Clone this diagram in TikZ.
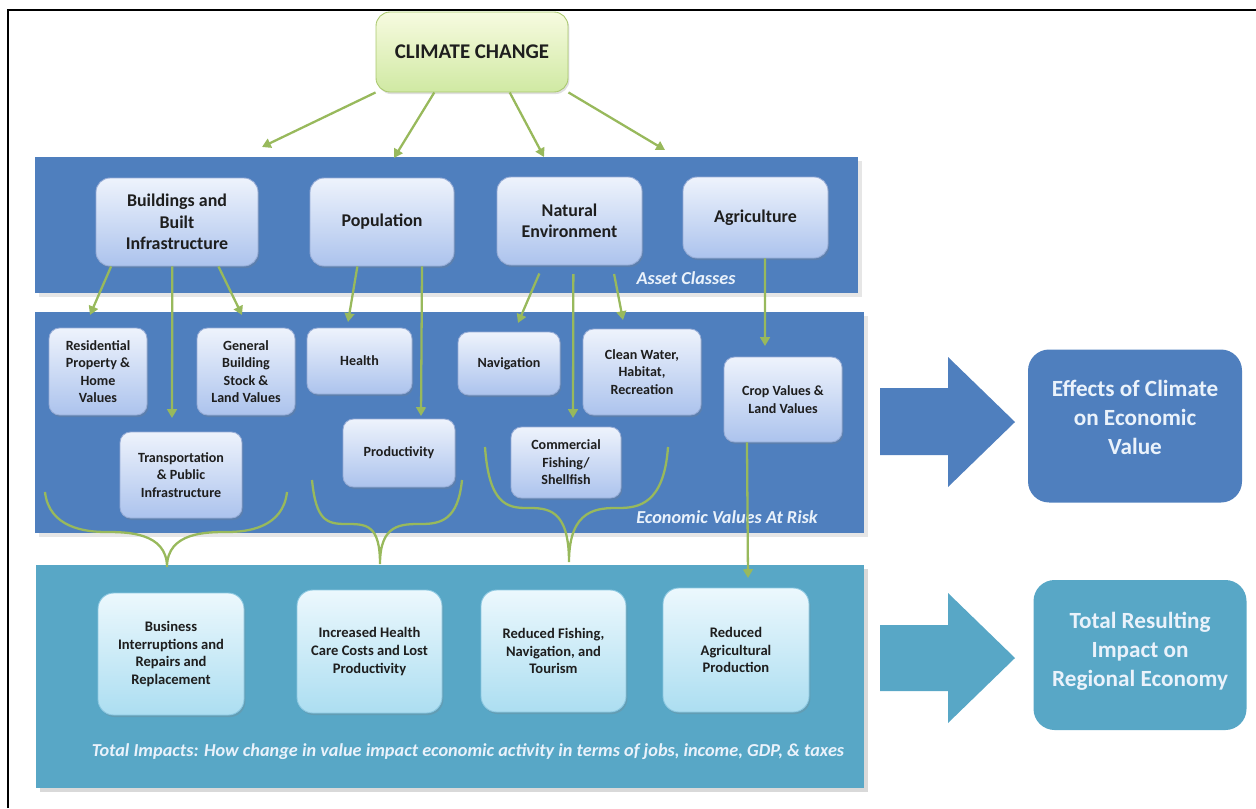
\documentclass[tikz,border=0pt]{standalone}
\usepackage{fontspec}
\setmainfont{Carlito}
\usetikzlibrary{arrows.meta,shadows}
\definecolor{bandblue}{RGB}{79,127,190}
\definecolor{bandteal}{RGB}{88,167,198}
\definecolor{leaf}{RGB}{152,185,92}
\definecolor{boxtop}{RGB}{238,243,252}
\definecolor{boxbot}{RGB}{172,195,237}
\definecolor{boxline}{RGB}{150,172,214}
\definecolor{celltop}{RGB}{236,248,253}
\definecolor{cellbot}{RGB}{172,222,241}
\definecolor{cellline}{RGB}{140,200,225}
\definecolor{limetop}{RGB}{247,251,224}
\definecolor{limebot}{RGB}{208,233,163}
\definecolor{limeline}{RGB}{170,200,110}
\definecolor{inktext}{RGB}{30,30,30}
\definecolor{paletext}{RGB}{234,242,251}
\tikzset{
  asset/.style={rounded corners=8pt, draw=boxline, line width=0.5pt, top color=boxtop, bottom color=boxbot,
    inner sep=0pt, align=center, text=inktext, font=\bfseries\fontsize{10.2}{12.2}\selectfont,
    drop shadow={opacity=0.25, shadow xshift=0.8pt, shadow yshift=-1.2pt}},
  value/.style={asset, rounded corners=6pt, font=\bfseries\fontsize{8}{10}\selectfont},
  impact/.style={asset, rounded corners=9pt, draw=cellline, top color=celltop, bottom color=cellbot,
    font=\bfseries\fontsize{8.3}{10}\selectfont},
  result/.style={rounded corners=12pt, inner sep=0pt},
  resulttext/.style={inner sep=0pt, align=center, text=paletext, font=\bfseries\fontsize{13.2}{16.5}\selectfont},
  conn/.style={draw=leaf, line width=1.3pt, -{Triangle[length=5pt,width=5.5pt]}},
  brace/.style={draw=leaf, line width=1.3pt},
  tag/.style={text=paletext, inner sep=0pt, font=\bfseries\itshape\fontsize{10.4}{12}\selectfont}
}
\begin{document}
\begin{tikzpicture}[x=0.02cm, y=-0.02cm]
    \useasboundingbox (0,0) rectangle (1256,808);
    \draw[line width=1.5pt] (8,808) -- (8,10) -- (1256,10);

    \fill[bandblue, drop shadow={opacity=0.2}] (35,157) rectangle (858,293);
    \fill[bandblue, drop shadow={opacity=0.2}] (35,312) rectangle (864,533);
    \fill[bandteal, drop shadow={opacity=0.3}] (36,565) rectangle (864,788);

    \fill[bandblue] (880,388) -- (948,388) -- (948,357) -- (1015,422) -- (948,487) -- (948,455) -- (880,455) -- cycle;
    \fill[bandteal] (880,625) -- (948,625) -- (948,593) -- (1015,658) -- (948,723) -- (948,691) -- (880,691) -- cycle;

    \node[asset, top color=limetop, bottom color=limebot, draw=limeline, font=\bfseries\fontsize{11.9}{14}\selectfont,
        minimum width=192*0.02cm, minimum height=80*0.02cm] (climate) at (472,52) {CLIMATE CHANGE};

    \foreach \n/\x/\y/\w/\h/\t in {build/177/222/162/88/{Buildings and\\Built\\Infrastructure},
            popu/382/222/144/88/Population, natenv/569.5/221/145/88/{Natural\\Environment},
            agri/755.5/217.5/145/81/Agriculture} {
            \node[asset, minimum width=\w*0.02cm, minimum height=\h*0.02cm] (\n) at (\x,\y) {\t};
        }
    \foreach \n/\x/\y/\w/\h/\t in {resid/98/371.5/98/87/{Residential\\Property \&\\Home\\Values},
            genbld/246/371.5/98/87/{General\\Building\\Stock \&\\Land Values},
            health/359.5/361/105/66/Health, navig/509/363.5/102/63/Navigation,
            water/642/372/118/86/{Clean Water,\\Habitat,\\Recreation},
            crop/783/399.5/118/85/{Crop Values \&\\Land Values},
            transp/181/475/122/86/{Transportation\\\& Public\\Infrastructure},
            produc/399/453/112/68/Productivity,
            fish/566/462.5/110/71/{Commercial\\Fishing/\\Shellfish}} {
            \node[value, minimum width=\w*0.02cm, minimum height=\h*0.02cm] (\n) at (\x,\y) {\t};
        }
    \foreach \n/\x/\y/\w/\h/\t in {busin/171/654/146/122/{Business\\Interruptions and\\Repairs and\\Replacement},
            carecost/369.5/651.5/145/123/{Increased Health\\Care Costs and Lost\\Productivity},
            tourism/553.5/651/145/122/{Reduced Fishing,\\Navigation, and\\Tourism},
            agloss/736/650/146/124/{Reduced\\Agricultural\\Production}} {
            \node[impact, minimum width=\w*0.02cm, minimum height=\h*0.02cm] (\n) at (\x,\y) {\t};
        }

    \node[tag] (assetlbl) at (686,278) {Asset Classes};
    \node[tag] (valuelbl) at (727,517) {Economic Values At Risk};
    \node[tag] (impactlbl) at (468,752)
        {Total Impacts: How change in value impact economic activity in terms of jobs, income, GDP, \& taxes};

    \node[result, fill=bandblue, minimum width=214*0.02cm, minimum height=153*0.02cm] (effects) at (1135,426) {};
    \node[resulttext] (effectstext) at (1135,417) {Effects of Climate\\on Economic\\Value};
    \node[result, fill=bandteal, minimum width=213*0.02cm, minimum height=150*0.02cm] (total) at (1140,655) {};
    \node[resulttext] (totaltext) at (1140,651) {Total Resulting\\Impact on\\Regional Economy};

    \foreach \a/\x/\y in {tipa/262/147, tipb/394/158, tipc/544/157, tipd/665/150, tipres/90/315,
            tiptra/172/418, tipgen/242/315, tiphea/348/322, tippro/421/416, tipnav/518/323,
            tipfis/573/418, tipwat/623/320, tipcro/765/346, tipagl/748/578} {
            \coordinate (\a) at (\x,\y);
        }
    \foreach \s/\e in {climate.south west/tipa, climate.-133/tipb, climate.-47/tipc, climate.south east/tipd,
            build.-146/tipres, build.-96/tiptra, build.-47/tipgen, popu.-119/tiphea, popu.-48/tippro,
            agri.-77/tipcro, crop.-130/tipagl} {
            \draw[conn] (\s) -- (\e);
        }
    \foreach \s/\e in {natenv.-121/tipnav, natenv.-85/tipfis, natenv.-46/tipwat} {
            \draw[conn, shorten <=5pt] (\s) -- (\e);
        }

    \foreach \l/\c/\r/\t/\m/\b in {45/167/287/492/532/567, 312/380/462/480/524/564, 485/569/668/447/508/562} {
            \draw[brace] (\l,\t) .. controls (\l+4,\m-4) and ({(\l+\c)/2-20},\m) .. ({(\l+\c)/2},\m)
                .. controls ({(\l+\c)/2+20},\m) and (\c,\m) .. (\c,\b)
                .. controls (\c,\m) and ({(\c+\r)/2-20},\m) .. ({(\c+\r)/2},\m)
                .. controls ({(\c+\r)/2+20},\m) and (\r-4,\m-4) .. (\r,\t);
        }
\end{tikzpicture}
\end{document}
